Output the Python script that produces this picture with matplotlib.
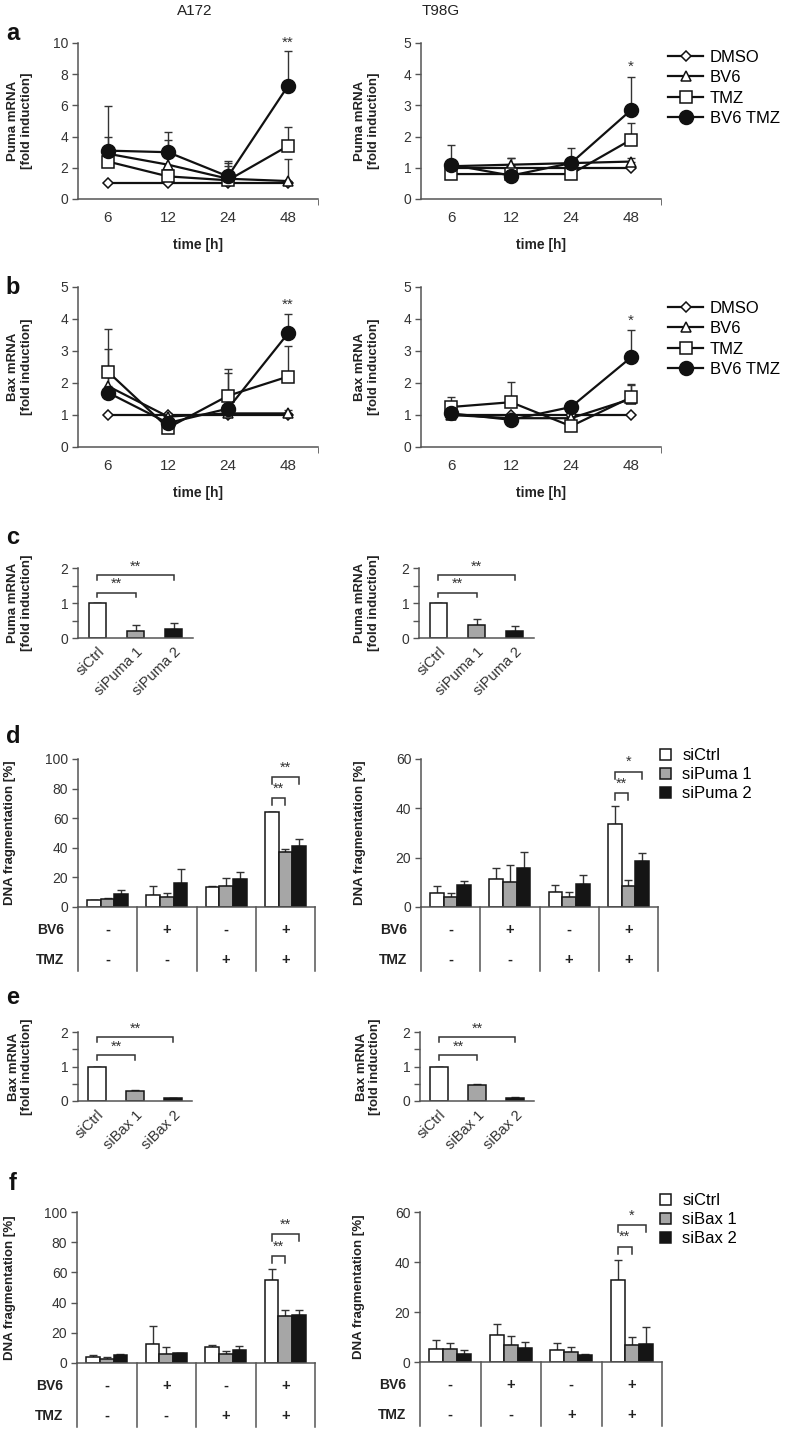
import numpy as np
import matplotlib
matplotlib.use('Agg')
import matplotlib.pyplot as plt
from matplotlib.transforms import blended_transform_factory

plt.rcParams['font.family'] = ['Liberation Sans', 'DejaVu Sans']

W, H = 788, 1431

# ---- datos ----
time_labels = ['6', '12', '24', '48']
treatments = ['DMSO', 'BV6', 'TMZ', 'BV6 TMZ']

# a: Puma mRNA (filas = DMSO, BV6, TMZ, BV6 TMZ)
puma_a172 = [[1.0, 1.0, 1.0, 1.0],
             [2.9, 2.2, 1.3, 1.15],
             [2.4, 1.45, 1.2, 3.4],
             [3.1, 3.0, 1.45, 7.25]]
puma_a172_err = [[0, 0, 0, 0],
                 [1.1, 1.6, 1.0, 1.4],
                 [0.6, 0.5, 0.9, 1.2],
                 [2.85, 1.3, 1.0, 2.25]]
puma_t98g = [[1.0, 1.0, 1.0, 1.0],
             [1.05, 1.1, 1.15, 1.2],
             [0.8, 0.8, 0.8, 1.9],
             [1.1, 0.75, 1.15, 2.85]]
puma_t98g_err = [[0, 0, 0, 0],
                 [0.1, 0.2, 0.1, 0.1],
                 [0.1, 0.1, 0.3, 0.55],
                 [0.62, 0.55, 0.5, 1.07]]

# b: Bax mRNA
bax_a172 = [[1.0, 1.0, 1.0, 1.0],
            [1.9, 0.95, 1.05, 1.05],
            [2.35, 0.6, 1.6, 2.2],
            [1.7, 0.75, 1.2, 3.55]]
bax_a172_err = [[0, 0, 0, 0],
                [0.3, 0.1, 0.3, 0.1],
                [1.35, 0.2, 0.85, 0.95],
                [1.35, 0.2, 1.1, 0.6]]
bax_t98g = [[1.0, 1.0, 1.0, 1.0],
            [1.0, 0.9, 0.9, 1.5],
            [1.25, 1.4, 0.65, 1.55],
            [1.05, 0.85, 1.25, 2.8]]
bax_t98g_err = [[0, 0, 0, 0],
                [0.1, 0.1, 0.1, 0.45],
                [0.3, 0.62, 0.15, 0.42],
                [0.1, 0.1, 0.1, 0.85]]

# c / e: knockdown
puma_si = ['siCtrl', 'siPuma 1', 'siPuma 2']
bax_si = ['siCtrl', 'siBax 1', 'siBax 2']
puma_kd_a172 = [1.0, 0.2, 0.25]
puma_kd_a172_err = [0, 0.17, 0.17]
puma_kd_t98g = [1.0, 0.37, 0.2]
puma_kd_t98g_err = [0, 0.18, 0.15]
bax_kd_a172 = [1.0, 0.3, 0.08]
bax_kd_a172_err = [0, 0.03, 0.02]
bax_kd_t98g = [1.0, 0.45, 0.08]
bax_kd_t98g_err = [0, 0.05, 0.03]

# d / f: fragmentacion de ADN (filas = siCtrl, si 1, si 2)
bv6_signs = ['-', '+', '-', '+']
tmz_signs = ['-', '-', '+', '+']
dna_puma_a172 = [[4.5, 8.1, 13.8, 63.9],
                 [5.4, 7.0, 14.0, 37.2],
                 [8.6, 16.5, 18.7, 40.9]]
dna_puma_a172_err = [[0.4, 6.3, 0.3, 0.2],
                     [0.9, 2.7, 5.4, 2.3],
                     [3.1, 9.2, 5.2, 5.1]]
dna_puma_t98g = [[5.8, 11.2, 6.1, 33.5],
                 [3.9, 10.0, 4.2, 8.5],
                 [8.9, 15.7, 9.5, 18.8]]
dna_puma_t98g_err = [[2.9, 4.8, 2.8, 7.3],
                     [1.8, 6.9, 1.8, 2.5],
                     [1.7, 6.5, 3.4, 2.9]]
dna_bax_a172 = [[3.7, 12.3, 10.5, 55.2],
                [2.9, 5.7, 5.9, 31.4],
                [5.1, 6.4, 8.8, 32.1]]
dna_bax_a172_err = [[1.8, 12.3, 1.5, 7.2],
                    [0.8, 4.6, 1.8, 4.0],
                    [0.6, 0.2, 2.2, 3.3]]
dna_bax_t98g = [[5.1, 11.0, 4.9, 32.7],
                [5.1, 7.0, 4.2, 6.9],
                [3.3, 5.8, 2.9, 7.1]]
dna_bax_t98g_err = [[3.7, 4.4, 2.9, 8.1],
                    [2.7, 3.6, 1.7, 3.3],
                    [1.4, 2.2, 0.3, 7.0]]

# ---- estilos ----
AX_COL = '#555555'
TXT_COL = '#333333'
BAR_COLORS = ['white', '#a6a6a6', '#151515']
MARKERS = [dict(marker='D', ms=5.5, mfc='white'),
           dict(marker='^', ms=7, mfc='white'),
           dict(marker='s', ms=8.5, mfc='white'),
           dict(marker='o', ms=10, mfc='#111111')]

fig = plt.figure(figsize=(W / 100, H / 100), dpi=100)


def add_ax(x0, y0, x1, y1):
    return fig.add_axes([x0 / W, 1 - y1 / H, (x1 - x0) / W, (y1 - y0) / H])


def base_style(ax):
    for s in ['top', 'right']:
        ax.spines[s].set_visible(False)
    for s in ['left', 'bottom']:
        ax.spines[s].set_color(AX_COL)
        ax.spines[s].set_linewidth(1.1)
    ax.tick_params(axis='y', direction='out', length=4, width=1, color=AX_COL,
                   labelsize=10, labelcolor=TXT_COL, pad=3)


def set_ylabel(ax, text, offset_px, width_px, size=9.5):
    # offset_px = distancia del eje al centro de la etiqueta
    ax.set_ylabel(text, fontsize=size, fontweight='bold', color='#222222',
                  linespacing=1.15, va='center', ha='center')
    ax.yaxis.set_label_coords(-offset_px / width_px, 0.5)


def bracket(ax, x1, x2, y, drop, text):
    ax.plot([x1, x1, x2, x2], [y - drop, y, y, y - drop], color='#333333', lw=1.1,
            clip_on=False, solid_joinstyle='miter')
    ax.text((x1 + x2) / 2, y + drop * 0.35, text, ha='center', va='bottom',
            fontsize=10.5, color='#333333', clip_on=False)


def line_panel(ax, means, errs, ymax, ystep, ylabel, lab_off, star, star_y):
    base_style(ax)
    x = np.arange(len(time_labels))
    for m, e in zip(means, errs):
        ax.errorbar(x, m, yerr=[np.zeros(len(e)), e], fmt='none', ecolor='#333333',
                    elinewidth=1.0, capsize=3, capthick=1.0, zorder=2)
    lines = []
    for i, m in enumerate(means):
        ln, = ax.plot(x, m, color='#111111', lw=1.6, mec='#111111', mew=1.1,
                      label=treatments[i], zorder=3 + i, **MARKERS[i])
        lines.append(ln)
    ax.set_xlim(-0.5, 3.5)
    ax.set_ylim(0, ymax)
    ax.set_yticks(np.arange(0, ymax + 0.01, ystep))
    ax.set_xticks(x)
    ax.set_xticklabels(time_labels)
    ax.set_xticks([3.5], minor=True)
    ax.tick_params(axis='x', which='major', length=0, labelsize=11, labelcolor=TXT_COL, pad=9)
    ax.tick_params(axis='x', which='minor', length=4, color=AX_COL)
    ax.set_xlabel('time [h]', fontsize=10, fontweight='bold', color='#222222', labelpad=9)
    set_ylabel(ax, ylabel, lab_off, 240)
    ax.text(3, star_y, star, ha='center', va='center', fontsize=11, color='#333333')
    return lines


def line_legend(lines, top_px):
    fig.legend(handles=lines, loc='upper left', bbox_to_anchor=(668 / W, 1 - top_px / H),
               frameon=False, fontsize=12, handlelength=2.1, handletextpad=0.4,
               labelspacing=0.32, borderaxespad=0, borderpad=0)


def kd_panel(ax, labels, vals, errs, ylabel, lab_off, brackets):
    base_style(ax)
    x = np.arange(len(vals))
    ax.bar(x, vals, width=0.45, color=BAR_COLORS, edgecolor='#151515', lw=1.1, zorder=2)
    ax.errorbar(x, vals, yerr=[np.zeros(len(errs)), errs], fmt='none', ecolor='#333333',
                elinewidth=1.0, capsize=3, capthick=1.0, zorder=1)
    ax.set_xlim(-0.5, 2.5)
    ax.set_ylim(0, 2)
    ax.set_yticks([0, 0.5, 1, 1.5, 2])
    ax.set_yticklabels(['0', '', '1', '', '2'])
    ax.set_xticks(x)
    ax.set_xticklabels(labels, rotation=45, ha='right', rotation_mode='anchor')
    ax.tick_params(axis='x', length=0, labelsize=10.5, labelcolor=TXT_COL, pad=5)
    set_ylabel(ax, ylabel, lab_off, 115)
    for x1, x2, y, txt in brackets:
        bracket(ax, x1, x2, y, 0.14, txt)


def dna_panel(ax, vals, errs, ymax, ystep, lab_off, width_px, height_px, brackets):
    base_style(ax)
    x = np.arange(len(bv6_signs))
    offs = [-0.23, 0.0, 0.23]
    bars = []
    for i in range(3):
        b = ax.bar(x + offs[i], vals[i], width=0.23, color=BAR_COLORS[i],
                   edgecolor='#151515', lw=1.1, zorder=2)
        bars.append(b)
        ax.errorbar(x + offs[i], vals[i], yerr=[np.zeros(len(errs[i])), errs[i]], fmt='none',
                    ecolor='#333333', elinewidth=1.0, capsize=2.6, capthick=1.0, zorder=1)
    ax.set_xlim(-0.5, 3.5)
    ax.set_ylim(0, ymax)
    ax.set_yticks(np.arange(0, ymax + 0.01, ystep))
    ax.set_xticks([])
    set_ylabel(ax, 'DNA fragmentation [%]', lab_off, width_px)
    # tabla de tratamientos bajo el eje
    tr = blended_transform_factory(ax.transData, ax.transAxes)
    depth = -64 / height_px
    for bx in [-0.5, 0.5, 1.5, 2.5, 3.5]:
        ax.plot([bx, bx], [0, depth], transform=tr, clip_on=False, color=AX_COL, lw=1.1)
    rows = [('BV6', bv6_signs, -23 / height_px), ('TMZ', tmz_signs, -53 / height_px)]
    for name, signs, ry in rows:
        ax.annotate(name, xy=(-0.5, ry), xycoords=tr, xytext=(-10, 0), textcoords='offset points',
                    ha='right', va='center', fontsize=10, fontweight='bold', color='#222222')
        for g, s in zip(x, signs):
            ax.text(g, ry, s, transform=tr, ha='center', va='center', fontsize=10.5,
                    fontweight='bold', color='#222222')
    drop = ymax * 7 / height_px
    for x1, x2, y, txt in brackets:
        bracket(ax, x1, x2, y, drop, txt)
    return bars


def bar_legend(bars, labels, top_px):
    fig.legend(handles=bars, labels=labels, loc='upper left',
               bbox_to_anchor=(660 / W, 1 - top_px / H), frameon=False, fontsize=12,
               handlelength=0.65, handleheight=0.65, handletextpad=0.7,
               labelspacing=0.25, borderaxespad=0, borderpad=0)


# ---- titulos y letras ----
fig.text(195 / W, 1 - 11 / H, 'A172', ha='center', va='center', fontsize=11, color='#222222')
fig.text(441 / W, 1 - 11 / H, 'T98G', ha='center', va='center', fontsize=11, color='#222222')
for lab, py in [('a', 33), ('b', 287), ('c', 537), ('d', 737), ('e', 998), ('f', 1183)]:
    fig.text(13 / W, 1 - py / H, lab, ha='center', va='center', fontsize=17,
             fontweight='bold', color='#111111')

# a
ax = add_ax(78, 43, 318, 199)
line_panel(ax, puma_a172, puma_a172_err, 10, 2, 'Puma mRNA\n[fold induction]', 58, '**', 10.0)
ax = add_ax(421, 43, 661, 199)
lines = line_panel(ax, puma_t98g, puma_t98g_err, 5, 1, 'Puma mRNA\n[fold induction]', 54, '*', 4.25)
line_legend(lines, 50)

# b
ax = add_ax(78, 287, 318, 447)
line_panel(ax, bax_a172, bax_a172_err, 5, 1, 'Bax mRNA\n[fold induction]', 58, '**', 4.45)
ax = add_ax(421, 287, 661, 447)
lines = line_panel(ax, bax_t98g, bax_t98g_err, 5, 1, 'Bax mRNA\n[fold induction]', 54, '*', 3.95)
line_legend(lines, 301)

# c
ax = add_ax(78, 568, 193, 638)
kd_panel(ax, puma_si, puma_kd_a172, puma_kd_a172_err, 'Puma mRNA\n[fold induction]', 58,
         [(0, 2, 1.8, '**'), (0, 1, 1.3, '**')])
ax = add_ax(419, 568, 534, 638)
kd_panel(ax, puma_si, puma_kd_t98g, puma_kd_t98g_err, 'Puma mRNA\n[fold induction]', 52,
         [(0, 2, 1.8, '**'), (0, 1, 1.3, '**')])

# d
ax = add_ax(78, 759, 315, 907)
dna_panel(ax, dna_puma_a172, dna_puma_a172_err, 100, 20, 68, 237, 148,
          [(2.77, 3.23, 88, '**'), (2.77, 3.0, 73.5, '**')])
ax = add_ax(421, 759, 658, 907)
bars = dna_panel(ax, dna_puma_t98g, dna_puma_t98g_err, 60, 20, 61, 237, 148,
                 [(2.77, 3.23, 54.9, '*'), (2.77, 3.0, 46.3, '**')])
bar_legend(bars, puma_si, 748)

# e
ax = add_ax(78, 1032, 192, 1101)
kd_panel(ax, bax_si, bax_kd_a172, bax_kd_a172_err, 'Bax mRNA\n[fold induction]', 58,
         [(0, 2, 1.85, '**'), (0, 1, 1.33, '**')])
ax = add_ax(420, 1032, 534, 1101)
kd_panel(ax, bax_si, bax_kd_t98g, bax_kd_t98g_err, 'Bax mRNA\n[fold induction]', 52,
         [(0, 2, 1.85, '**'), (0, 1, 1.33, '**')])

# f
ax = add_ax(77, 1212, 315, 1363)
dna_panel(ax, dna_bax_a172, dna_bax_a172_err, 100, 20, 67, 238, 151,
          [(2.77, 3.23, 85.3, '**'), (2.77, 3.0, 70.8, '**')])
ax = add_ax(420, 1212, 662, 1362)
bars = dna_panel(ax, dna_bax_t98g, dna_bax_t98g_err, 60, 20, 61, 242, 150,
                 [(2.77, 3.23, 54.7, '*'), (2.77, 3.0, 46.2, '**')])
bar_legend(bars, bax_si, 1193)

fig.savefig('out.png', dpi=100)
